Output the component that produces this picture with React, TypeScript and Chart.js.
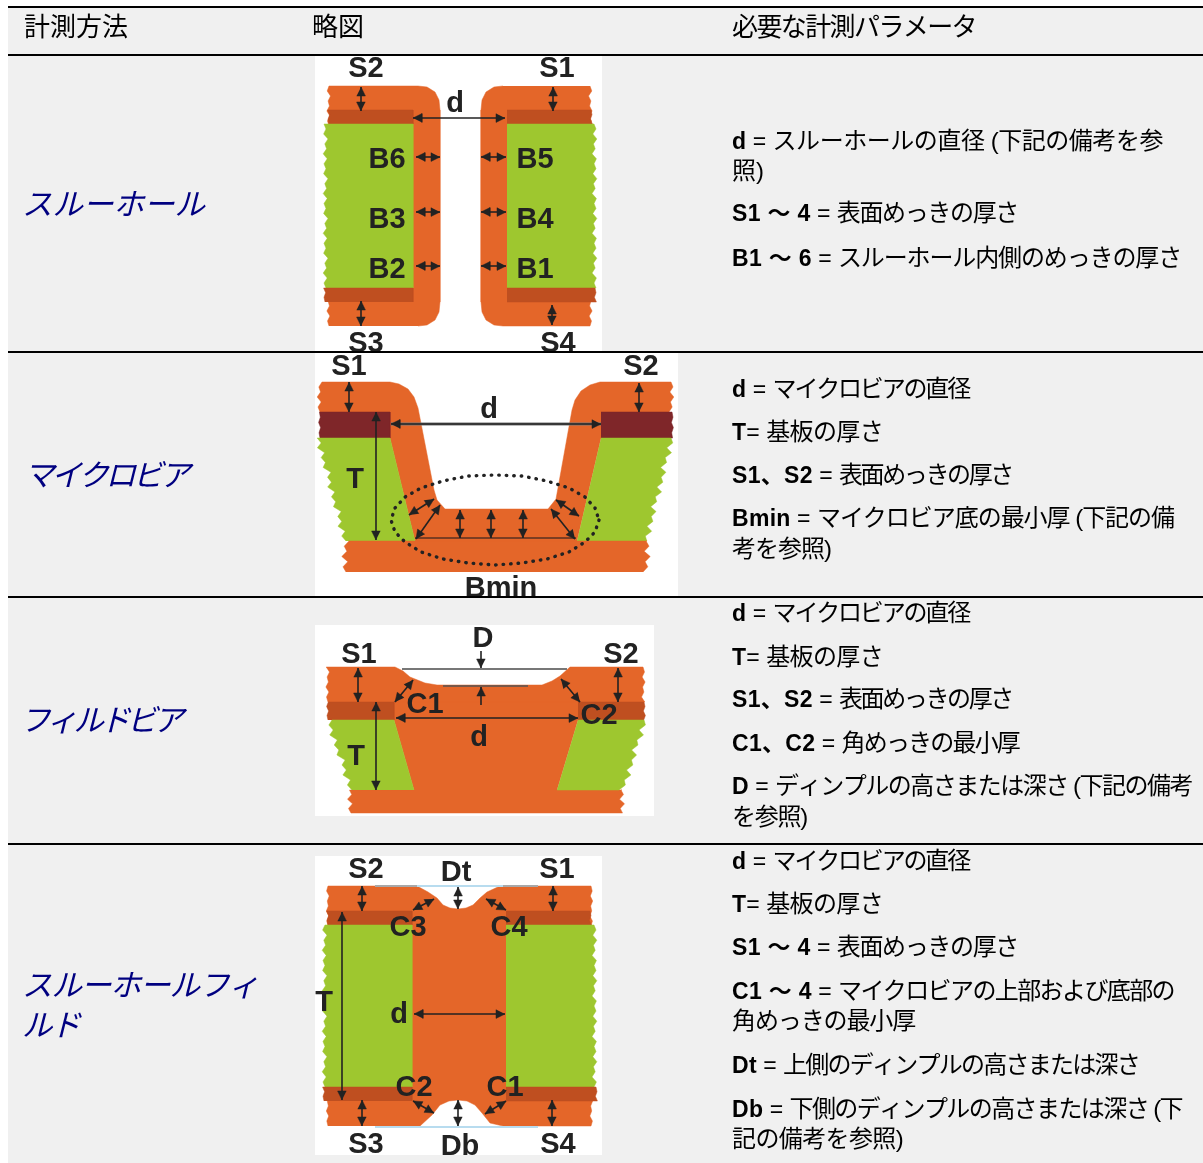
import React, { useEffect, useRef } from "react";
import { Chart, registerables } from "chart.js";

Chart.register(...registerables);

type P = { x: number; y: number };

// ---------- table text ----------
const headers = ["計測方法", "略図", "必要な計測パラメータ"];
const methods = [["スルーホール"], ["マイクロビア"], ["フィルドビア"], ["スルーホールフィ", "ルド"]];
const paramsThrough = [
  ["d", " = ", "スルーホールの直径 (下記の備考を参"],
  ["", "", "照)"],
  ["S1 ～ 4", " = ", "表面めっきの厚さ"],
  ["B1 ～ 6", " = ", "スルーホール内側のめっきの厚さ"],
];
const paramsMicro = [
  ["d", " = ", "マイクロビアの直径"],
  ["T", "= ", "基板の厚さ"],
  ["S1、S2", " = ", "表面めっきの厚さ"],
  ["Bmin", " = ", "マイクロビア底の最小厚 (下記の備"],
  ["", "", "考を参照)"],
];
const paramsFilled = [
  ["d", " = ", "マイクロビアの直径"],
  ["T", "= ", "基板の厚さ"],
  ["S1、S2", " = ", "表面めっきの厚さ"],
  ["C1、C2", " = ", "角めっきの最小厚"],
  ["D", " = ", "ディンプルの高さまたは深さ (下記の備考"],
  ["", "", "を参照)"],
];
const paramsThroughFilled = [
  ["d", " = ", "マイクロビアの直径"],
  ["T", "= ", "基板の厚さ"],
  ["S1 ～ 4", " = ", "表面めっきの厚さ"],
  ["C1 ～ 4", " = ", "マイクロビアの上部および底部の"],
  ["", "", "角めっきの最小厚"],
  ["Dt", " = ", "上側のディンプルの高さまたは深さ"],
  ["Db", " = ", "下側のディンプルの高さまたは深さ (下"],
  ["", "", "記の備考を参照)"],
];
const allParams = [...paramsThrough, ...paramsMicro, ...paramsFilled, ...paramsThroughFilled];

// ---------- table layout ----------
const paramCentres = [140, 170, 212, 257, 388, 431, 474, 517, 548, 612, 656, 698, 742, 785, 816, 860, 903, 946, 990, 1020, 1064, 1108, 1138];
const paramRights = [1163, 764, 1018, 1181, 969, 883, 1012, 1174, 831, 969, 883, 1012, 1019, 1192, 807, 969, 883, 1018, 1174, 915, 1139, 1182, 903];
const methodCentres = [[204], [475], [720], [985, 1025]];
const methodLefts = [22, 24, 20, 22];
const methodSpacing = [[0], [-3.3], [-3.8], [-1, -2]];
const headerLefts = [24, 312, 732];
const headerSpacing = [0, 0, -1.6];
const ruleYs = [6, 54, 351, 596, 843];
const imageRects = [
  [315, 55, 602, 352],
  [315, 352, 678, 597],
  [315, 625, 654, 816],
  [315, 856, 602, 1155],
];

// ---------- diagram labels: text, x, y, image ----------
const labels: [string, number, number, number][] = [
  ["S2", 366, 67, 0], ["S1", 557, 67, 0], ["d", 455, 102, 0], ["B6", 387, 158, 0], ["B5", 535, 158, 0],
  ["B3", 387, 218, 0], ["B4", 535, 218, 0], ["B2", 387, 268, 0], ["B1", 535, 268, 0], ["S3", 366, 342, 0], ["S4", 558, 342, 0],
  ["S1", 349, 365, 1], ["S2", 641, 365, 1], ["d", 489, 408, 1], ["T", 355, 478, 1], ["Bmin", 501, 587, 1],
  ["S1", 359, 653, 2], ["S2", 621, 653, 2], ["D", 483, 637, 2], ["C1", 425, 703, 2], ["C2", 599, 714, 2], ["d", 479, 736, 2], ["T", 356, 755, 2],
  ["S2", 366, 868, 3], ["Dt", 456, 871, 3], ["S1", 557, 868, 3], ["C3", 408, 926, 3], ["C4", 509, 926, 3], ["T", 324, 1001, 3],
  ["d", 399, 1013, 3], ["C2", 414, 1086, 3], ["C1", 505, 1086, 3], ["S3", 366, 1143, 3], ["Db", 460, 1145, 3], ["S4", 558, 1143, 3],
];

// ---------- colours ----------
const ORANGE = "#e46629";
const BAND = "#bf4f20";
const GREEN = "#9ec72f";
const MAROON = "#7f2629";
const INK = "#222222";
const TABLE_BG = "#f0f0f0";
const NAVY = "#000080";

// ---------- outlines ----------
const edgePattern = [0, -1, 0.6, -1.4, 0.3, -0.6, 1, -1.2];
const p = (pts: number[][]): P[] => pts.map(([x, y]) => ({ x, y }));
function edge(x1: number, y1: number, x2: number, y2: number, amp: number): number[][] {
  const n = Math.max(2, Math.round(Math.abs(y2 - y1) / 5));
  const out: number[][] = [];
  for (let i = 0; i <= n; i++) {
    const t = i / n;
    out.push([x1 + (x2 - x1) * t + edgePattern[i % edgePattern.length] * amp, y1 + (y2 - y1) * t]);
  }
  return out;
}

const fills: [number[][], string][] = [
  // through hole
  [[...edge(329, 326, 329, 86, 1.5), [418, 86], [427, 87], [435, 92], [439, 100], [440, 110], [440, 302], [439, 312], [435, 320], [427, 325], [418, 326]], ORANGE],
  [[[503, 86], [494, 87], [486, 92], [482, 100], [481, 110], [481, 302], [482, 312], [486, 320], [494, 325], [503, 326], ...edge(590, 326, 590, 86, -1.5)], ORANGE],
  [[...edge(329, 124, 329, 110, 1), [413, 110], [413, 124]], BAND],
  [[[507, 110], ...edge(591, 110, 591, 124, -1), [507, 124]], BAND],
  [[...edge(326, 288, 326, 124, 2), [413, 124], [413, 288]], GREEN],
  [[[507, 124], ...edge(594, 124, 594, 288, -2), [507, 288]], GREEN],
  [[...edge(325, 302, 325, 288, 1), [413, 288], [413, 302]], BAND],
  [[[507, 288], ...edge(595, 288, 595, 302, -1), [507, 302]], BAND],
  // microvia
  [[...edge(320, 412, 320, 382, 2), [390, 382], [399, 384], [408, 389], [414, 397], [418, 408], [434, 490], [437, 500], [445, 509], [548, 509], [556, 499], [572, 410], [575, 400], [581, 391], [590, 385], [600, 382], ...edge(671, 382, 671, 412, -2), [601, 412], [601, 438], [577, 541], [415, 541], [390, 438], [390, 412]], ORANGE],
  [[...edge(320, 438, 320, 412, 1), [390, 412], [390, 438]], MAROON],
  [[[601, 412], ...edge(672, 412, 672, 438, -1), [601, 438]], MAROON],
  [[...edge(346, 541, 319, 438, 3), [390, 438], [415, 541]], GREEN],
  [[[601, 438], ...edge(671, 438, 645, 541, -3), [577, 541]], GREEN],
  [[...edge(346, 572, 346, 541, 3), [647, 541], ...edge(646, 541, 646, 572, -3)], ORANGE],
  // filled via
  [[...edge(328, 702, 328, 667, 1.5), [395, 667], [403, 671], [410, 677], [425, 683], [437, 685], [542, 685], [552, 681], [560, 676], [570, 667], ...edge(643, 667, 643, 702, -1.5), [643, 702]], ORANGE],
  [[[394, 702], [578, 702], [578, 720], [557, 790], [622, 790], ...edge(621, 790, 621, 813, -2.5), ...edge(351, 813, 351, 790, 2.5), [414, 790], [394, 720]], ORANGE],
  [[...edge(328, 720, 328, 702, 1), [394, 702], [394, 720]], BAND],
  [[[578, 702], ...edge(644, 702, 644, 720, -1), [578, 720]], BAND],
  [[...edge(352, 790, 329, 720, 3), [394, 720], [414, 790]], GREEN],
  [[[578, 720], ...edge(644, 720, 622, 790, -3), [557, 790]], GREEN],
  // through-hole filled
  [[...edge(328, 1126, 328, 886, 1.2), [417, 886], [428, 892], [437, 898], [443, 905], [450, 908], [458, 909], [466, 908], [473, 905], [480, 898], [487, 892], [500, 886], ...edge(591, 886, 591, 1126, -1.2), [503, 1126], [490, 1123], [482, 1113], [475, 1105], [467, 1101], [458, 1100], [449, 1101], [440, 1105], [432, 1115], [420, 1126]], ORANGE],
  [[...edge(328, 925, 328, 911, 1), [412, 911], [412, 925]], BAND],
  [[[506, 911], ...edge(590, 911, 590, 925, -1), [506, 925]], BAND],
  [[...edge(325, 1087, 325, 925, 2), [412, 925], [412, 1087]], GREEN],
  [[[506, 925], ...edge(594, 925, 594, 1087, -2), [506, 1087]], GREEN],
  [[...edge(324, 1101, 324, 1087, 1), [412, 1087], [412, 1101]], BAND],
  [[[506, 1087], ...edge(596, 1087, 596, 1101, -1), [506, 1101]], BAND],
];

// plain lines: points, colour, width
const strokes: [number[][], string, number][] = [
  [[[415, 538], [576, 538]], "#5a3020", 1.6],
  [[[391, 424], [601, 424]], "#777777", 3],
  [[[402, 669], [567, 669]], "#777777", 2],
  [[[443, 686], [528, 686]], "#555555", 1.5],
  [[[375, 886], [417, 886]], "#a8a8a8", 2],
  [[[417, 886], [503, 886]], "#b8dcef", 2],
  [[[503, 886], [538, 886]], "#a8a8a8", 2],
  [[[375, 1127], [538, 1127]], "#b8dcef", 2],
];

const ellipsePoints = [[599, 520], [595, 532], [585, 542], [569, 552], [547, 559], [522, 563], [495, 565], [468, 563], [443, 559], [421, 552], [405, 542], [395, 532], [391, 520], [395, 508], [405, 497], [421, 488], [443, 481], [468, 476], [495, 475], [522, 476], [547, 481], [569, 488], [585, 497], [595, 508], [599, 520]];

// double-headed arrows: x1,y1,x2,y2
const arrows: number[][] = [
  [361, 87, 361, 111], [553, 87, 553, 111], [361, 301, 361, 326], [552, 305, 552, 325], [413, 118, 505, 118],
  [416, 157, 440, 157], [416, 212, 440, 212], [416, 266, 440, 266], [481, 157, 506, 157], [481, 212, 506, 212], [481, 266, 506, 266],
  [349, 382, 349, 412], [639, 383, 639, 412], [376, 412, 376, 540], [391, 424, 601, 424],
  [460, 510, 460, 538], [491, 510, 491, 538], [523, 510, 523, 538],
  [409, 515, 434, 499], [416, 539, 440, 505], [556, 500, 579, 516], [551, 509, 575, 539],
  [358, 668, 358, 702], [618, 668, 618, 702], [376, 702, 376, 790], [396, 718, 578, 718],
  [395, 702, 413, 680], [561, 679, 580, 702],
  [362, 886, 362, 911], [553, 886, 553, 911], [362, 1100, 362, 1126], [552, 1100, 552, 1126],
  [342, 912, 342, 1100], [414, 1014, 505, 1014], [458, 887, 458, 909], [458, 1100, 458, 1126],
  [413, 910, 434, 899], [486, 899, 506, 910], [413, 1101, 434, 1113], [485, 1114, 506, 1101],
];
// single-headed arrows: tail x,y then tip x,y
const singleArrows: number[][] = [[481, 651, 481, 668], [481, 705, 481, 687]];

// ---------- datasets ----------
function shapeSet(pts: number[][], color: string) {
  return { data: p(pts), showLine: true, fill: "shape", backgroundColor: color, borderColor: color, borderWidth: 0.5, pointRadius: 0, tension: 0 };
}
function lineSet(pts: number[][], color: string, width: number, dash?: number[]) {
  return { data: p(pts), showLine: true, fill: false, borderColor: color, borderWidth: width, pointRadius: 0, tension: 0, borderDash: dash ?? [], borderCapStyle: dash ? "round" : "butt" };
}
function head(x1: number, y1: number, x2: number, y2: number) {
  const len = Math.hypot(x2 - x1, y2 - y1) || 1;
  const ux = (x2 - x1) / len;
  const uy = (y2 - y1) / len;
  const L = 9;
  const W = 4.4;
  return shapeSet([[x2, y2], [x2 - ux * L - uy * W, y2 - uy * L + ux * W], [x2 - ux * L + uy * W, y2 - uy * L - ux * W]], INK);
}
const paintOrder: any[] = [
  ...fills.map(([pts, c]) => shapeSet(pts, c)),
  ...strokes.map(([pts, c, w]) => lineSet(pts, c, w)),
  lineSet(ellipsePoints, INK, 3.4, [0.5, 7]),
  ...arrows.flatMap(([a, b, c, d]) => [lineSet([[a, b], [c, d]], INK, 1.6), head(a, b, c, d), head(c, d, a, b)]),
  ...singleArrows.flatMap(([a, b, c, d]) => [lineSet([[a, b], [c, d]], INK, 1.6), head(a, b, c, d)]),
];
// Chart.js paints the first dataset on top
const datasets = paintOrder.slice().reverse();

const FAMILY = '"Liberation Sans", "Noto Sans CJK JP", sans-serif';

const tablePlugin = {
  id: "tablePlugin",
  beforeDatasetsDraw(chart: any) {
    const { ctx, scales } = chart;
    const X = (v: number) => scales.x.getPixelForValue(v);
    const Y = (v: number) => scales.y.getPixelForValue(v);
    ctx.save();
    ctx.fillStyle = TABLE_BG;
    ctx.fillRect(X(8), Y(6), X(1203) - X(8), Y(1163) - Y(6));
    ctx.fillStyle = "#ffffff";
    imageRects.forEach(([a, b, c, d]) => ctx.fillRect(X(a), Y(b), X(c) - X(a), Y(d) - Y(b)));
    ctx.restore();
    ctx.filter = "blur(0.65px)";
  },
  afterDatasetsDraw(chart: any) {
    const { ctx, scales } = chart;
    const X = (v: number) => scales.x.getPixelForValue(v);
    const Y = (v: number) => scales.y.getPixelForValue(v);
    ctx.save();
    // diagram labels
    ctx.textBaseline = "alphabetic";
    ctx.textAlign = "center";
    ctx.fillStyle = INK;
    ctx.font = `bold 29px ${FAMILY}`;
    labels.forEach(([t, x, y, i]) => {
      const [a, b, c, d] = imageRects[i];
      ctx.save();
      ctx.beginPath();
      ctx.rect(X(a), Y(b), X(c) - X(a), Y(d) - Y(b));
      ctx.clip();
      ctx.fillText(t, X(x), Y(y) + 10);
      ctx.restore();
    });
    ctx.restore();
    ctx.filter = "none";
    ctx.save();
    // rules
    ctx.fillStyle = "#000000";
    ruleYs.forEach((y) => ctx.fillRect(X(8), Y(y), X(1203) - X(8), 2));
    // text
    ctx.textAlign = "left";
    ctx.textBaseline = "alphabetic";
    ctx.fillStyle = "#000000";
    ctx.font = `26px ${FAMILY}`;
    headers.forEach((h, i) => {
      ctx.letterSpacing = `${headerSpacing[i]}px`;
      ctx.fillText(h, X(headerLefts[i]), Y(27) + 9);
    });
    ctx.fillStyle = NAVY;
    ctx.font = `italic 30.5px ${FAMILY}`;
    methods.forEach((lines, i) =>
      lines.forEach((l, j) => {
        ctx.letterSpacing = `${methodSpacing[i][j]}px`;
        ctx.fillText(l, X(methodLefts[i]), Y(methodCentres[i][j]) + 11);
      })
    );
    ctx.fillStyle = "#000000";
    allParams.forEach(([strong, eq, rest], i) => {
      const base = Y(paramCentres[i]) + 9;
      let x = X(732);
      ctx.letterSpacing = "0px";
      if (strong) {
        ctx.font = `bold 23px ${FAMILY}`;
        ctx.letterSpacing = "0.3px";
        ctx.fillText(strong, x, base);
        x += ctx.measureText(strong).width;
        ctx.letterSpacing = "0px";
      }
      if (eq) {
        ctx.font = `23px ${FAMILY}`;
        ctx.fillText(eq, x, base);
        x += ctx.measureText(eq).width;
      }
      ctx.font = `24px ${FAMILY}`;
      const natural = ctx.measureText(rest).width;
      const gap = (X(paramRights[i]) - x - natural) / Math.max(1, rest.length);
      ctx.letterSpacing = `${gap}px`;
      ctx.fillText(rest, x, base);
      ctx.letterSpacing = "0px";
    });
    ctx.restore();
  },
};

export default function App() {
  const ref = useRef<HTMLCanvasElement | null>(null);
  useEffect(() => {
    document.body.style.margin = "0";
    const chart = new Chart(ref.current as HTMLCanvasElement, {
      type: "scatter",
      data: { datasets },
      options: {
        animation: false,
        responsive: false,
        events: [],
        layout: { padding: 0 },
        plugins: { legend: { display: false }, tooltip: { enabled: false } },
        scales: {
          x: { type: "linear", min: 0, max: 1203, display: false },
          y: { type: "linear", min: 0, max: 1163, reverse: true, display: false },
        },
      },
      plugins: [tablePlugin],
    } as any);
    return () => chart.destroy();
  }, []);
  return <canvas ref={ref} width={1203} height={1163} style={{ display: "block", position: "absolute", left: 0, top: 0 }} />;
}
